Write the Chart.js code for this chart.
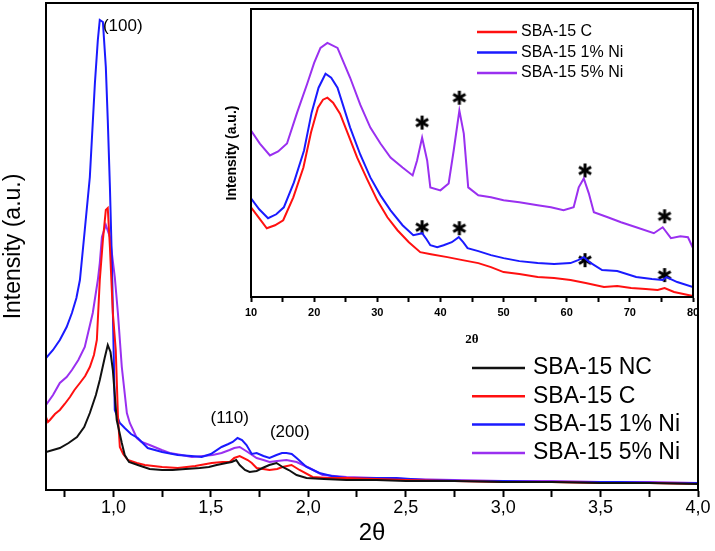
<!DOCTYPE html>
<html lang="en">
<head>
<meta charset="UTF-8">
<title>SBA-15 low-angle and wide-angle XRD</title>
<script src="https://cdn.jsdelivr.net/npm/chart.js"></script>
<style>
    body { margin: 0; background: #fff; }
    #wrap { position: relative; width: 715px; height: 551px; }
    #mainChart { position: absolute; left: 0; top: 0; }
    #insetChart { position: absolute; left: 200px; top: 0; }
</style>
</head>
<body>
<div id="wrap">
    <canvas id="mainChart" width="715" height="551"></canvas>
    <canvas id="insetChart" width="515" height="350"></canvas>
</div>

<script>
    // ---- main plot (low angle) ----
    const ncX = [0.654, 0.69, 0.725, 0.77, 0.813, 0.85, 0.879, 0.91, 0.930, 0.955, 0.971, 0.985, 0.997, 1.017, 1.043, 1.058, 1.08, 1.125, 1.186, 1.25, 1.304, 1.37, 1.443, 1.49, 1.530, 1.58, 1.607, 1.630, 1.648, 1.675, 1.699, 1.735, 1.765, 1.80, 1.837, 1.868, 1.90, 1.940, 1.991, 2.08, 2.196, 2.35, 2.5, 2.75, 3.0, 3.25, 3.5, 3.75, 4.0];
    const ncY = [38, 40, 42, 47, 53, 63, 77, 95, 110, 132, 145, 138, 120, 70, 47, 35, 28, 25, 21, 20, 20, 21, 22, 23, 25, 27, 28, 30, 25, 20, 18, 19, 22, 25, 27, 23, 20, 15, 12, 11, 10, 10, 9, 9, 8, 8, 7, 7, 6];

    const cX = [0.654, 0.664, 0.674, 0.70, 0.725, 0.75, 0.777, 0.80, 0.828, 0.855, 0.879, 0.900, 0.915, 0.930, 0.946, 0.961, 0.971, 0.982, 0.997, 1.012, 1.023, 1.033, 1.05, 1.074, 1.12, 1.161, 1.25, 1.33, 1.42, 1.504, 1.56, 1.596, 1.620, 1.648, 1.689, 1.71, 1.735, 1.801, 1.84, 1.868, 1.914, 1.955, 2.022, 2.1, 2.196, 2.35, 2.5, 2.75, 3.0, 3.25, 3.5, 3.75, 4.0];
    const cY = [73, 68, 70, 76, 80, 86, 93, 100, 107, 114, 123, 135, 150, 210, 250, 280, 282, 243, 177, 140, 75, 43, 36, 30, 27, 25, 23, 22, 24, 27, 28, 28, 32, 34, 30, 27, 22, 20, 21, 23, 25, 20, 13, 12, 12, 11, 10, 9, 8, 8, 7, 7, 6];

    const ni1X = [0.654, 0.690, 0.725, 0.76, 0.787, 0.81, 0.828, 0.853, 0.879, 0.905, 0.920, 0.930, 0.946, 0.961, 0.971, 0.982, 0.992, 1.007, 1.033, 1.058, 1.09, 1.125, 1.176, 1.25, 1.330, 1.40, 1.453, 1.50, 1.555, 1.590, 1.612, 1.637, 1.660, 1.683, 1.710, 1.735, 1.770, 1.801, 1.837, 1.865, 1.888, 1.915, 1.940, 1.991, 2.057, 2.12, 2.196, 2.30, 2.452, 2.6, 2.790, 3.0, 3.2, 3.4, 3.6, 3.8, 4.0];
    const ni1Y = [132, 140, 150, 163, 177, 192, 210, 260, 313, 407, 450, 470, 468, 423, 370, 303, 230, 80, 67, 62, 56, 52, 42, 38, 35, 34, 33, 36, 43, 46, 48, 52, 50, 45, 36, 37, 34, 32, 35, 37, 37, 36, 32, 23, 17, 14, 12, 12, 12, 10, 9, 9, 8, 8, 8, 7, 7];

    const ni5X = [0.654, 0.69, 0.725, 0.76, 0.787, 0.82, 0.853, 0.894, 0.920, 0.930, 0.941, 0.961, 0.982, 1.007, 1.023, 1.043, 1.069, 1.084, 1.120, 1.145, 1.186, 1.248, 1.289, 1.35, 1.402, 1.46, 1.509, 1.555, 1.596, 1.620, 1.648, 1.689, 1.735, 1.770, 1.801, 1.840, 1.888, 1.940, 2.006, 2.073, 2.196, 2.35, 2.5, 2.75, 3.0, 3.25, 3.5, 3.75, 4.0];
    const ni5Y = [85, 95, 107, 113, 120, 130, 143, 177, 210, 227, 253, 265, 253, 213, 177, 123, 77, 67, 52, 48, 45, 40, 37, 35, 33, 34, 35, 37, 40, 42, 43, 38, 32, 30, 28, 29, 30, 28, 22, 15, 13, 12, 11, 10, 9, 9, 8, 8, 7];

    const mainTickValues = [0.75, 1.0, 1.25, 1.5, 1.75, 2.0, 2.25, 2.5, 2.75, 3.0, 3.25, 3.5, 3.75, 4.0];
    const mainTickLabels = ['', '1,0', '', '1,5', '', '2,0', '', '2,5', '', '3,0', '', '3,5', '', '4,0'];

    const peakLabels = ['(100)', '(110)', '(200)'];
    const peakLabelX = [0.946, 1.597, 1.905];
    const peakLabelY = [464, 72, 58];

    // ---- inset (wide angle) ----
    const wideCX = [10, 11.2, 12.5, 13.8, 15.1, 16.7, 18.3, 19.5, 20.6, 21.4, 22.1, 23.0, 24.1, 25.4, 26.8, 28.4, 30.0, 31.6, 33.2, 35.0, 36.8, 38.5, 41.1, 43.5, 46.0, 48.0, 50.0, 52.5, 55.4, 58.0, 60.6, 63.0, 65.9, 68.0, 70.2, 72.5, 74.4, 75.5, 77.0, 80];
    const wideCY = [90, 80, 69, 72, 77, 100, 130, 165, 190, 198, 200, 195, 184, 163, 140, 118, 97, 80, 67, 55, 45, 43, 40, 37, 34, 30, 25, 23, 20, 19, 17, 14, 10, 11, 9, 8, 7, 9, 5, 1];

    const wide1X = [10, 11.3, 12.7, 14.0, 15.2, 16.8, 18.4, 19.6, 20.7, 21.8, 22.7, 23.7, 25.7, 27.3, 28.9, 30.5, 32.1, 34.0, 35.7, 36.4, 37.1, 37.8, 38.4, 39.5, 40.5, 41.8, 42.9, 43.6, 44.3, 46.0, 48.0, 50.0, 52.5, 55.4, 58.0, 60.6, 61.8, 62.7, 63.6, 65.6, 68.0, 71.0, 73.5, 75.2, 75.8, 77.5, 80];
    const wide1Y = [99, 88, 79, 83, 90, 115, 147, 185, 210, 224, 220, 210, 170, 143, 120, 102, 87, 72, 62, 63, 64, 58, 52, 50, 52, 55, 60, 55, 49, 46, 42, 39, 36, 34, 33, 34, 37, 40, 35, 27, 26, 20, 18, 17, 20, 15, 10];

    const wide5X = [10, 11.4, 13.0, 14.3, 15.7, 17.3, 18.9, 20.0, 21.0, 22.1, 23.7, 25.7, 27.3, 28.9, 30.5, 32.1, 34.0, 35.6, 36.3, 37.1, 37.9, 38.4, 40.0, 41.3, 42.1, 43.0, 43.7, 44.4, 46.0, 48.0, 50.0, 52.5, 55.4, 57.5, 59.5, 61.1, 61.9, 62.7, 63.5, 64.3, 66.5, 68.6, 71.0, 73.8, 75.2, 76.5, 78.0, 79.2, 80];
    const wide5Y = [167, 154, 142, 146, 154, 185, 214, 235, 250, 255, 250, 220, 193, 170, 154, 140, 130, 122, 137, 160, 137, 110, 107, 114, 147, 187, 164, 110, 102, 100, 97, 95, 92, 90, 87, 90, 110, 119, 104, 85, 80, 75, 70, 64, 70, 59, 61, 60, 49];

    const starX = [37.1, 43.0, 62.9, 75.5, 37.1, 43.0, 62.9, 75.5];
    const starY = [175, 200, 127, 81, 70, 69, 37, 22];

    const insetTickValues = [10, 15, 20, 25, 30, 35, 40, 45, 50, 55, 60, 65, 70, 75, 80];
    const insetTickLabels = ['10', '', '20', '', '30', '', '40', '', '50', '', '60', '', '70', '', '80'];

    const FONT = '"Liberation Sans", Arial, sans-serif';
    const BLACK = '#111111', RED = '#ff1010', BLUE = '#1a1aff', PURPLE = '#9a30f0';

    const pts = (xs, ys) => xs.map((x, i) => ({ x: x, y: ys[i] }));

    // six-armed asterisk used as point style for the peak markers
    const asterisk = document.createElement('canvas');
    asterisk.width = 16;
    asterisk.height = 16;
    (function () {
        const c = asterisk.getContext('2d');
        c.strokeStyle = '#000';
        c.lineWidth = 3;
        c.lineCap = 'butt';
        for (let k = 0; k < 3; k++) {
            const ang = Math.PI / 2 + k * Math.PI / 3;
            const dx = Math.cos(ang) * 7, dy = Math.sin(ang) * 7;
            c.beginPath();
            c.moveTo(8 - dx, 8 - dy);
            c.lineTo(8 + dx, 8 + dy);
            c.stroke();
        }
    })();

    // box around the plotting area
    const framePlugin = {
        id: 'frame',
        afterDraw(chart) {
            const a = chart.chartArea;
            const ctx = chart.ctx;
            ctx.save();
            ctx.strokeStyle = '#000';
            ctx.lineWidth = 2;
            ctx.strokeRect(a.left, a.top, a.right - a.left, a.bottom - a.top);
            ctx.restore();
        }
    };

    // legend drawn inside the plot area
    function boxLegend(id, items, opt) {
        return {
            id: id,
            afterDraw(chart) {
                const ctx = chart.ctx;
                ctx.save();
                ctx.font = opt.font;
                ctx.textBaseline = 'middle';
                ctx.fillStyle = '#000';
                items.forEach((it, i) => {
                    const y = opt.y + i * opt.gap;
                    ctx.strokeStyle = it.color;
                    ctx.lineWidth = 2.5;
                    ctx.beginPath();
                    ctx.moveTo(opt.x, y);
                    ctx.lineTo(opt.x + opt.len, y);
                    ctx.stroke();
                    ctx.fillText(it.label, opt.x + opt.len + opt.pad, y);
                });
                ctx.restore();
            }
        };
    }

    const peakLabelPlugin = {
        id: 'peakLabels',
        afterDatasetsDraw(chart) {
            const ctx = chart.ctx;
            const xs = chart.scales.x, ys = chart.scales.y;
            ctx.save();
            ctx.font = '17px ' + FONT;
            ctx.fillStyle = '#000';
            ctx.textBaseline = 'middle';
            peakLabels.forEach((t, i) => {
                ctx.textAlign = i === 0 ? 'left' : 'center';
                ctx.fillText(t, xs.getPixelForValue(peakLabelX[i]), ys.getPixelForValue(peakLabelY[i]));
            });
            ctx.restore();
        }
    };

    const lineDs = (label, xs, ys, color) => ({
        label: label,
        data: pts(xs, ys),
        borderColor: color,
        backgroundColor: color,
        borderWidth: 2,
        pointRadius: 0,
        fill: false,
        tension: 0
    });

    new Chart(document.getElementById('mainChart'), {
        type: 'line',
        data: {
            datasets: [
                lineDs('SBA-15 NC', ncX, ncY, BLACK),
                lineDs('SBA-15 C', cX, cY, RED),
                lineDs('SBA-15 1% Ni', ni1X, ni1Y, BLUE),
                lineDs('SBA-15 5% Ni', ni5X, ni5Y, PURPLE)
            ]
        },
        options: {
            responsive: false,
            animation: false,
            layout: { padding: { top: 3, right: 17, bottom: 0, left: 0 } },
            scales: {
                x: {
                    type: 'linear',
                    min: 0.654,
                    max: 4.0,
                    afterBuildTicks: axis => { axis.ticks = mainTickValues.map(v => ({ value: v })); },
                    afterFit: axis => { axis.height = 61; },
                    ticks: {
                        autoSkip: false,
                        maxRotation: 0,
                        padding: 0,
                        color: '#000',
                        font: { family: FONT, size: 18 },
                        callback: (v, i) => mainTickLabels[i]
                    },
                    grid: { drawOnChartArea: false, tickLength: 7, tickWidth: 2, tickColor: '#000' },
                    border: { color: '#000', width: 2 },
                    title: {
                        display: true,
                        text: '2θ',
                        color: '#000',
                        font: { family: FONT, size: 24 },
                        padding: { top: 0, bottom: 3 }
                    }
                },
                y: {
                    min: 0,
                    max: 487,
                    afterFit: axis => { axis.width = 46; },
                    ticks: { display: false },
                    grid: { display: false },
                    border: { color: '#000', width: 2 },
                    title: {
                        display: true,
                        text: 'Intensity (a.u.)',
                        color: '#000',
                        font: { family: FONT, size: 23 },
                        padding: { top: 0, bottom: 0 }
                    }
                }
            },
            plugins: { legend: { display: false }, tooltip: { enabled: false } }
        },
        plugins: [
            framePlugin,
            peakLabelPlugin,
            boxLegend('mainLegend', [
                { label: 'SBA-15 NC', color: BLACK },
                { label: 'SBA-15 C', color: RED },
                { label: 'SBA-15 1% Ni', color: BLUE },
                { label: 'SBA-15 5% Ni', color: PURPLE }
            ], { x: 472, y: 368, gap: 28.3, len: 53, pad: 8, font: '23px ' + FONT })
        ]
    });

    new Chart(document.getElementById('insetChart'), {
        type: 'line',
        data: {
            datasets: [
                lineDs('SBA-15 C', wideCX, wideCY, RED),
                lineDs('SBA-15 1% Ni', wide1X, wide1Y, BLUE),
                lineDs('SBA-15 5% Ni', wide5X, wide5Y, PURPLE),
                {
                    type: 'scatter',
                    label: 'peaks',
                    data: pts(starX, starY),
                    pointStyle: asterisk,
                    pointRadius: 8,
                    showLine: false
                }
            ]
        },
        options: {
            responsive: false,
            animation: false,
            layout: { padding: { top: 8, right: 22, bottom: 0, left: 0 } },
            scales: {
                x: {
                    type: 'linear',
                    min: 10,
                    max: 80,
                    afterBuildTicks: axis => { axis.ticks = insetTickValues.map(v => ({ value: v })); },
                    afterFit: axis => { axis.height = 53; },
                    ticks: {
                        autoSkip: false,
                        maxRotation: 0,
                        padding: 4,
                        color: '#000',
                        font: { family: FONT, size: 11, weight: 'bold' },
                        callback: (v, i) => insetTickLabels[i]
                    },
                    grid: { drawOnChartArea: false, tickLength: 5, tickWidth: 2, tickColor: '#000' },
                    border: { color: '#000', width: 2 },
                    title: {
                        display: true,
                        text: '2θ',
                        color: '#000',
                        font: { family: '"Liberation Serif", serif', size: 13, weight: 'bold' },
                        padding: { top: 0, bottom: 3 }
                    }
                },
                y: {
                    min: 0,
                    max: 289,
                    afterFit: axis => { axis.width = 51; },
                    ticks: { display: false },
                    grid: { display: false },
                    border: { color: '#000', width: 2 },
                    title: {
                        display: true,
                        text: 'Intensity (a.u.)',
                        color: '#000',
                        font: { family: FONT, size: 14, weight: 'bold' },
                        padding: { top: 24, bottom: 0 }
                    }
                }
            },
            plugins: { legend: { display: false }, tooltip: { enabled: false } }
        },
        plugins: [
            framePlugin,
            boxLegend('insetLegend', [
                { label: 'SBA-15 C', color: RED },
                { label: 'SBA-15 1% Ni', color: BLUE },
                { label: 'SBA-15 5% Ni', color: PURPLE }
            ], { x: 277, y: 32, gap: 20.5, len: 40, pad: 4, font: '16px ' + FONT })
        ]
    });
</script>
</body>
</html>
